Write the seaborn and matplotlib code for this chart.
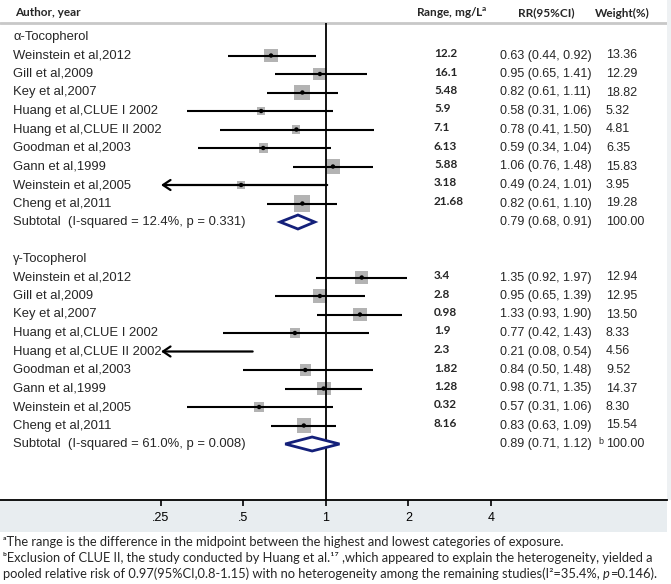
import numpy as np
import pandas as pd
import seaborn as sns

import matplotlib
matplotlib.use("Agg")  # headless mode (no GUI)

import matplotlib.pyplot as plt
from matplotlib.patches import Rectangle, Polygon
from matplotlib.ticker import NullLocator, FixedLocator, FixedFormatter

sns.set_theme(style="white")
plt.rcParams["font.family"] = ["Liberation Sans", "DejaVu Sans"]

# data
studies = ["Weinstein et al,2012", "Gill et al,2009", "Key et al,2007",
           "Huang et al,CLUE I 2002", "Huang et al,CLUE II 2002",
           "Goodman et al,2003", "Gann et al,1999", "Weinstein et al,2005",
           "Cheng et al,2011"]

alpha_range = ["12.2", "16.1", "5.48", "5.9", "7.1", "6.13", "5.88", "3.18", "21.68"]
alpha_rr = [0.63, 0.95, 0.82, 0.58, 0.78, 0.59, 1.06, 0.49, 0.82]
alpha_lo = [0.44, 0.65, 0.61, 0.31, 0.41, 0.34, 0.76, 0.24, 0.61]
alpha_hi = [0.92, 1.41, 1.11, 1.06, 1.50, 1.04, 1.48, 1.01, 1.10]
alpha_weight = [13.36, 12.29, 18.82, 5.32, 4.81, 6.35, 15.83, 3.95, 19.28]
alpha_sub = [0.79, 0.68, 0.91]
alpha_het = "Subtotal  (I-squared = 12.4%, p = 0.331)"

gamma_range = ["3.4", "2.8", "0.98", "1.9", "2.3", "1.82", "1.28", "0.32", "8.16"]
gamma_rr = [1.35, 0.95, 1.33, 0.77, 0.21, 0.84, 0.98, 0.57, 0.83]
gamma_lo = [0.92, 0.65, 0.93, 0.42, 0.08, 0.50, 0.71, 0.31, 0.63]
gamma_hi = [1.97, 1.39, 1.90, 1.43, 0.54, 1.48, 1.35, 1.06, 1.09]
gamma_weight = [12.94, 12.95, 13.50, 8.33, 4.56, 9.52, 14.37, 8.30, 15.54]
gamma_sub = [0.89, 0.71, 1.12]
gamma_het = "Subtotal  (I-squared = 61.0%, p = 0.008)"

x_ticks = [0.25, 0.5, 1, 2, 4]
x_ticklabels = [".25", ".5", "1", "2", "4"]

footnote_a = "\u1d43The range is the difference in the midpoint between the highest and lowest categories of exposure."
footnote_b1 = ("\u1d47Exclusion of CLUE II, the study conducted by Huang et al.\u00b9\u2077 ,which appeared "
               "to explain the heterogeneity, yielded a")
footnote_b2 = ["pooled relative risk of 0.97(95%CI,0.8-1.15) with no heterogeneity among the "
               "remaining studies(I\u00b2=35.4%, ", "p", "=0.146)."]

# layout (pixels of the 671x584 picture)
W, H = 671, 584
AX_RIGHT = 667
AX_BOTTOM = 500
X_ONE = 326
K = 82.5           # pixels per doubling
ROW0, ROW_STEP = 37, 18.5
CLIP_LO = 0.25
SQ = 7.05          # marker area per weight percent
LABEL_SIZE = 9.4
STAT_SIZE = 9

fig = plt.figure(figsize=(W / 100, H / 100), dpi=100)
fig.patch.set_facecolor("white")
ax = fig.add_axes([0, (H - AX_BOTTOM) / H, AX_RIGHT / W, AX_BOTTOM / H])
ax.set_xscale("log", base=2)
ax.set_xlim(2 ** (-X_ONE / K), 2 ** ((AX_RIGHT - X_ONE) / K))
ax.set_ylim(AX_BOTTOM, 0)

tr = ax.get_yaxis_transform()


def px(x):
    return x / AX_RIGHT


def row_y(i):
    return ROW0 + ROW_STEP * i


bold_font = ["Lato", "DejaVu Sans"]

# header
ax.text(px(15), 13, "Author, year", transform=tr, fontsize=8.5, fontweight="bold",
        family=bold_font, va="center")
ax.text(px(416), 13, "Range, mg/L$^{\\mathregular{a}}$", transform=tr, fontsize=8.5,
        fontweight="bold", family=bold_font, va="center")
ax.text(px(518), 13, "RR(95%CI)", transform=tr, fontsize=8.5, fontweight="bold",
        family=bold_font, va="center")
ax.text(px(595), 13, "Weight(%)", transform=tr, fontsize=8.5, fontweight="bold",
        family=bold_font, va="center")
ax.axhline(23, 0, 1, color="#c8c8c8", lw=2)

rows = []
groups = [
    ("\u03b1-Tocopherol", 0, alpha_range, alpha_rr, alpha_lo, alpha_hi, alpha_weight, alpha_sub, alpha_het, False),
    ("\u03b3-Tocopherol", 12, gamma_range, gamma_rr, gamma_lo, gamma_hi, gamma_weight, gamma_sub, gamma_het, True),
]

for title, start, rng, rr, lo, hi, wt, sub, het, note_b in groups:
    ax.text(px(13), row_y(start), title, transform=tr, fontsize=LABEL_SIZE, va="center")
    for j, name in enumerate(studies):
        y = row_y(start + 1 + j)
        ax.text(px(13), y, name, transform=tr, fontsize=LABEL_SIZE, va="center")
        ax.text(px(434), y - 2, rng[j], transform=tr, fontsize=8.5, fontweight="bold",
                family=bold_font, va="center")
        ax.text(px(500), y, f"{rr[j]:.2f} ({lo[j]:.2f}, {hi[j]:.2f})", transform=tr,
                fontsize=STAT_SIZE, va="center")
        ax.text(px(606), y, f"{wt[j]:.2f}", transform=tr, fontsize=STAT_SIZE, va="center")
        if lo[j] < CLIP_LO:
            ax.annotate("", xy=(CLIP_LO, y), xytext=(hi[j], y),
                        arrowprops=dict(arrowstyle="->,head_length=0.45,head_width=0.3",
                                        lw=1.6, color="black", shrinkA=0, shrinkB=0))
        else:
            ax.hlines(y, lo[j], hi[j], color="black", lw=1.5, zorder=3)
        rows.append({"rr": rr[j], "y": y, "weight": wt[j]})

    ys = row_y(start + 10)
    ax.text(px(13), ys, het, transform=tr, fontsize=LABEL_SIZE, va="center")
    ax.text(px(500), ys, f"{sub[0]:.2f} ({sub[1]:.2f}, {sub[2]:.2f})", transform=tr,
            fontsize=STAT_SIZE, va="center")
    ax.text(px(606), ys, "100.00", transform=tr, fontsize=STAT_SIZE, va="center")
    if note_b:
        ax.text(px(598), ys - 3, "b", transform=tr, fontsize=6.5, va="center")
    diamond = Polygon([(sub[1], ys), (sub[0], ys - 7), (sub[2], ys), (sub[0], ys + 7)],
                      closed=True, facecolor="white", edgecolor="#14207a", lw=2, zorder=5)
    ax.add_patch(diamond)

df = pd.DataFrame(rows)
df = df[df["rr"] >= CLIP_LO]
wmin, wmax = df["weight"].min(), df["weight"].max()
sns.scatterplot(data=df, x="rr", y="y", size="weight", sizes=(SQ * wmin, SQ * wmax),
                size_norm=(wmin, wmax), marker="s", color="#b3b3b3", edgecolor="none",
                linewidth=0, legend=False, ax=ax, zorder=2)
sns.scatterplot(data=df, x="rr", y="y", s=10, color="black", edgecolor="none",
                linewidth=0, legend=False, ax=ax, zorder=4)

ax.vlines(1, 23, AX_BOTTOM, color="black", lw=1.3, zorder=3)

# axis
for side in ["top", "left", "right"]:
    ax.spines[side].set_visible(False)
ax.spines["bottom"].set_color("black")
ax.spines["bottom"].set_linewidth(1.3)
ax.xaxis.set_major_locator(FixedLocator(x_ticks))
ax.xaxis.set_major_formatter(FixedFormatter(x_ticklabels))
ax.xaxis.set_minor_locator(NullLocator())
ax.set_yticks([])
ax.set_xlabel("")
ax.set_ylabel("")
ax.tick_params(axis="x", bottom=True, direction="out", length=4.5, width=1.2, pad=4,
               labelsize=9, colors="black")
ax.patch.set_facecolor("white")

# grey band under the axis and right strip
fig.add_artist(Rectangle((0, (H - 532) / H), AX_RIGHT / W, 32 / H, transform=fig.transFigure,
                         facecolor="#e8edf0", edgecolor="none", zorder=-1))
fig.add_artist(Rectangle((AX_RIGHT / W, (H - AX_BOTTOM) / H), 1 - AX_RIGHT / W, AX_BOTTOM / H,
                         transform=fig.transFigure, facecolor="#eef1f3", edgecolor="none",
                         zorder=-1))

# footnotes
foot_font = ["Lato", "DejaVu Sans"]
FOOT_SIZE = 9.3
fig.text(3 / W, 1 - 542 / H, footnote_a, fontsize=FOOT_SIZE, family=foot_font, va="center")
fig.text(3 / W, 1 - 558 / H, footnote_b1, fontsize=FOOT_SIZE, family=foot_font, va="center")

renderer = fig.canvas.get_renderer()
x_cur = 3
for k, piece in enumerate(footnote_b2):
    t = fig.text(x_cur / W, 1 - 574 / H, piece, fontsize=FOOT_SIZE, family=foot_font,
                 style="italic" if k == 1 else "normal", va="center")
    x_cur = t.get_window_extent(renderer).x1 + (0.5 if k == 1 else 0)

fig.savefig("out.png", dpi=100, facecolor="white")
